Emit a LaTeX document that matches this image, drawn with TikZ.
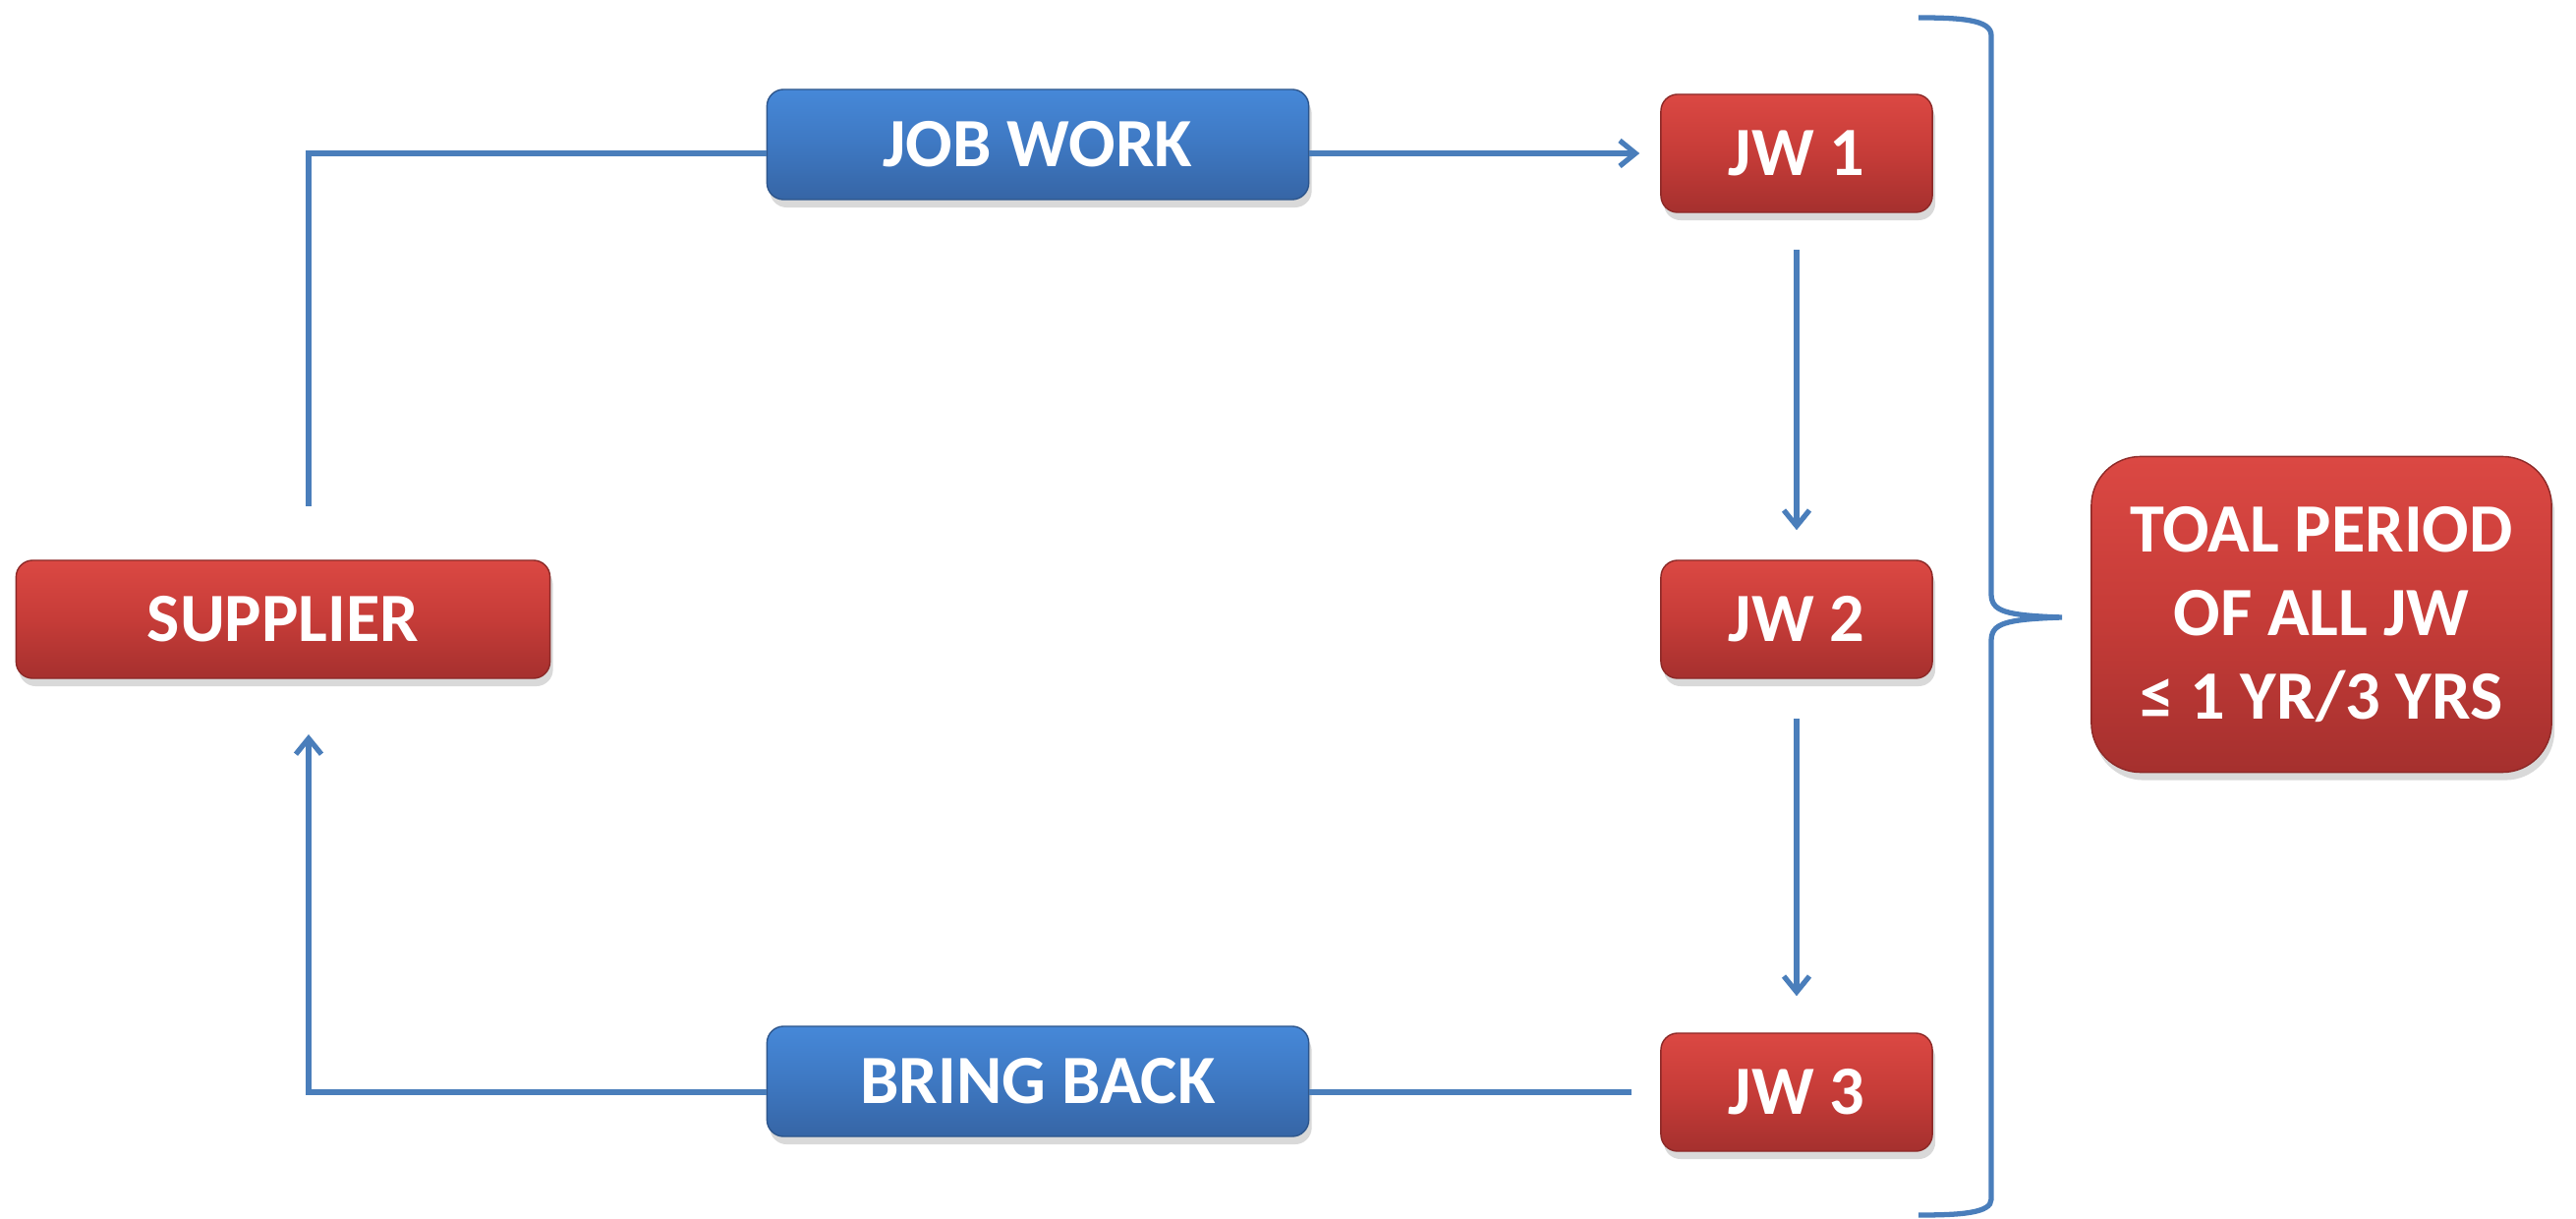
\documentclass[tikz,border=0pt]{standalone}
\usepackage{fontspec}
\setmainfont{Carlito}
\usetikzlibrary{arrows.meta,shadows}
\definecolor{redtop}{HTML}{DB4843}
\definecolor{redmid}{HTML}{C63C38}
\definecolor{redbot}{HTML}{A5302E}
\definecolor{bluetop}{HTML}{4688D8}
\definecolor{bluemid}{HTML}{3E78C2}
\definecolor{bluebot}{HTML}{3665A5}
\definecolor{linkblue}{HTML}{4A7EBB}
\begin{document}
\begin{tikzpicture}[x=0.01cm,y=-0.01cm,
  box/.style={rounded corners=1.7mm, minimum height=1.2cm, text=white,
    font=\fontsize{20}{24.2}\selectfont\bfseries, inner sep=0pt,
    drop shadow={opacity=0.3, shadow xshift=0.3mm, shadow yshift=-0.8mm}},
  redbox/.style={box, top color=redtop, bottom color=redbot, middle color=redmid,
    draw=redbot!85!black, line width=0.4pt},
  bluebox/.style={box, top color=bluetop, bottom color=bluebot, middle color=bluemid,
    draw=bluebot!85!black, line width=0.4pt, minimum height=1.12cm},
  link/.style={draw=linkblue, line width=1.5pt},
  tip/.style={-{Straight Barb[length=1.6mm,width=2.6mm,line width=1.5pt]}}
]
\useasboundingbox (0,0) rectangle (2621,1240);

% boxes
\node[redbox, minimum width=5.43cm] (supplier) at (288,630) {SUPPLIER};
\node[bluebox, minimum width=5.51cm] (jobwork) at (1056,147) {JOB WORK};
\node[bluebox, minimum width=5.51cm] (bringback) at (1056,1100) {BRING BACK};
\node[redbox, minimum width=2.76cm] (jw1) at (1828,156) {JW 1};
\node[redbox, minimum width=2.76cm] (jw2) at (1828,630) {JW 2};
\node[redbox, minimum width=2.76cm] (jw3) at (1828,1111) {JW 3};
\node[redbox, minimum width=4.68cm, minimum height=3.21cm, rounded corners=5mm,
  align=center] (total) at (2362,625) {TOAL PERIOD\\OF ALL JW\\≤ 1 YR/3 YRS};

% free ends near the supplier
\coordinate (sup-out) at (314,515);
\coordinate (sup-in) at (314,747);

% flow out to job work and through the stages
\draw[link] (sup-out) |- (jobwork.west |- jw1);
\draw[link, tip, shorten >=0.21cm] (jobwork.east |- jw1) -- (jw1.west);
\draw[link, tip, shorten <=0.37cm, shorten >=0.30cm] (jw1.south) -- (jw2.north);
\draw[link, tip, shorten <=0.40cm, shorten >=0.37cm] (jw2.south) -- (jw3.north);

% return flow
\draw[link, shorten <=0.29cm] (jw3.west) -- (bringback.east |- jw3);
\draw[link, tip] (bringback.west |- jw3) -| (sup-in);

% brace spanning all stages
\coordinate (brace-top) at (1952,18);
\coordinate (brace-tip) at (2098,628);
\coordinate (brace-bot) at (1952,1236);
\draw[link] (brace-top) .. controls (1995,18) and (2026,20) .. (2026,36)
  -- (2026,604) .. controls (2026,622) and (2040,626) .. (brace-tip)
  .. controls (2040,630) and (2026,634) .. (2026,652)
  -- (2026,1220) .. controls (2026,1234) and (1995,1236) .. (brace-bot);
\end{tikzpicture}
\end{document}
